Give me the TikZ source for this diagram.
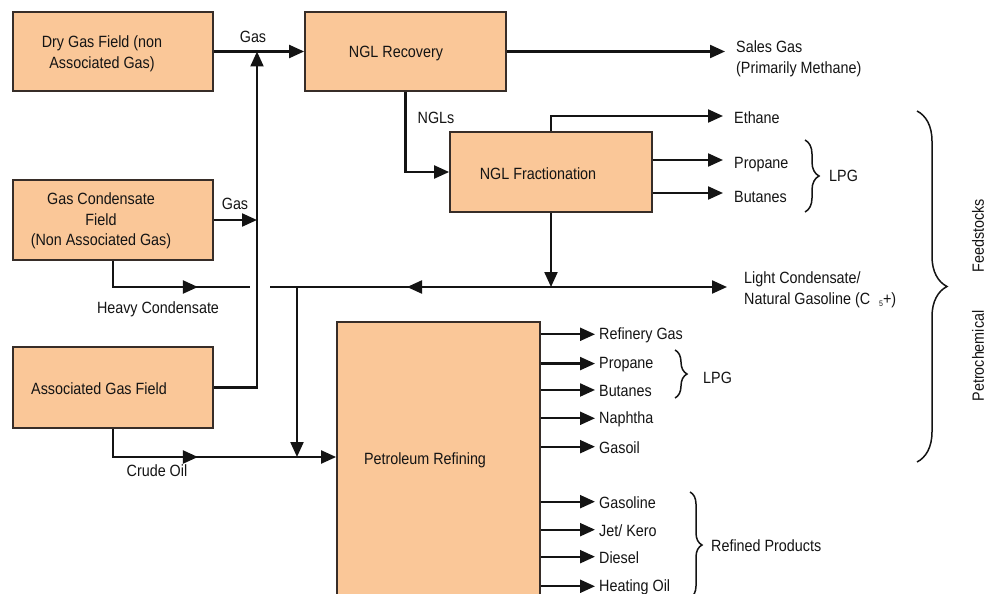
\documentclass[tikz,border=0pt]{standalone}
\usepackage{fontspec}
\setmainfont[FakeStretch=0.88]{Liberation Sans}
\usetikzlibrary{arrows.meta,decorations.pathreplacing,decorations.markings,calc}
\definecolor{peach}{RGB}{250,199,152}
\definecolor{edgec}{RGB}{55,45,40}
\definecolor{inkc}{RGB}{20,20,20}
\begin{document}
\begin{tikzpicture}[x=1pt,y=-1pt,
  font=\fontsize{16.3}{20.5}\selectfont,
  box/.style={draw=edgec, line width=1.8pt, fill=peach, inner sep=0pt},
  txt/.style={inner sep=1pt, text=inkc, align=center},
  outtxt/.style={inner sep=1pt, text=inkc, anchor=base west},
  line/.style={draw=inkc, line width=2.2pt},
  flow/.style={line, -{Triangle[length=15pt,width=13pt]}},
  midarrow/.style={postaction={decorate}, decoration={markings, mark=at position #1 with {\arrow{Triangle[length=15pt,width=13pt]}}}},
  brc/.style={draw=inkc, line width=1.5pt, decorate, decoration={brace, amplitude=#1}}
]
\useasboundingbox (0,0) rectangle (991,594);
\clip (0,0) rectangle (991,594);
\fill[white] (0,0) rectangle (991,594);

% boxes
\node[box, minimum width=200pt, minimum height=79pt] (dry) at (113,51.5) {};
\node[box, minimum width=201pt, minimum height=79pt] (rec) at (405.5,51.5) {};
\node[box, minimum width=200pt, minimum height=80pt] (gcf) at (113,220) {};
\node[box, minimum width=200pt, minimum height=81pt] (agf) at (113,387.5) {};
\node[box, minimum width=202pt, minimum height=80pt] (frac) at (551,172) {};
\node[box, minimum width=203pt, minimum height=280pt] (ref) at (438.5,462) {};

% box texts
\node[txt] (drytxt) at (102,54) {Dry Gas Field (non\\Associated Gas)};
\node[txt, anchor=base] (rectxt) at (396,58) {NGL Recovery};
\node[txt] (gcftxt) at (101,221) {Gas Condensate\\Field\\(Non Associated Gas)};
\node[txt, anchor=base] (agftxt) at (99,394) {Associated Gas Field};
\node[txt, anchor=base] (fractxt) at (538,179) {NGL Fractionation};
\node[txt, anchor=base] (reftxt) at (425,464) {Petroleum Refining};

% labels on connectors
\node[txt, anchor=base] (lgas1) at (253,43) {Gas};
\node[txt, anchor=base] (lgas2) at (235,209) {Gas};
\node[txt, anchor=base] (lheavy) at (158,313) {Heavy Condensate};
\node[txt, anchor=base] (lcrude) at (157,476) {Crude Oil};
\node[txt, anchor=base] (lngls) at (436,123) {NGLs};

% gas side outputs
\node[inner sep=1pt, text=inkc, align=left, anchor=west] (sales) at (735,59) {Sales Gas\\(Primarily Methane)};
\node[outtxt] (ethane) at (733,124) {Ethane};
\node[outtxt] (prop1) at (733,168) {Propane};
\node[outtxt] (but1) at (733,202) {Butanes};
\node[outtxt] (lpg1) at (828,181) {LPG};
\node[inner sep=1pt, text=inkc, align=left, anchor=west] (light) at (743,290) {Light Condensate/\\Natural Gasoline (C\hspace{9pt}\raisebox{-2pt}{\fontsize{8}{8}\selectfont 5}+)};

% refinery outputs
\node[outtxt] (rgas) at (598,339) {Refinery Gas};
\node[outtxt] (prop2) at (598,368) {Propane};
\node[outtxt] (but2) at (598,396) {Butanes};
\node[outtxt] (naph) at (598,423) {Naphtha};
\node[outtxt] (gasoil) at (598,453) {Gasoil};
\node[outtxt] (gasoline) at (598,508) {Gasoline};
\node[outtxt] (jet) at (598,536) {Jet/ Kero};
\node[outtxt] (diesel) at (598,563) {Diesel};
\node[outtxt] (heat) at (598,591) {Heating Oil};
\node[outtxt] (lpg2) at (702,383) {LPG};
\node[outtxt] (refprod) at (710,551) {Refined Products};

% petrochemical feedstocks
\node[txt, rotate=90] (feed) at (978,236) {Feedstocks};
\node[txt, rotate=90] (petro) at (978,356) {Petrochemical};

% coordinates
\coordinate (gasjoin) at (257,51.5);
\coordinate (gcfgas) at (257,220);
\coordinate (salesend) at (725,51.5);
\coordinate (ethend) at (723,116);
\coordinate (propend) at (723,160);
\coordinate (butend) at (723,193);
\coordinate (lcjoin) at (551,287);
\coordinate (lcL) at (270,287);
\coordinate (lcR) at (727,287);
\coordinate (hcE) at (250,287);
\coordinate (lcdrop) at (297,287);
\coordinate (rjoin) at (297,457);

% connectors
\draw[flow] (dry.east) -- (rec.west);
\draw[flow] (agf.east) -| (gasjoin);
\draw[flow] (gcf.east) -- (gcfgas);
\draw[flow] (rec.east) -- (salesend);
\draw[flow] (rec.south) |- (frac.west);
\draw[flow] (frac.north) |- (ethend);
\draw[flow] (frac.east |- propend) -- (propend);
\draw[flow] (frac.east |- butend) -- (butend);
\draw[flow] (frac.south) -- (lcjoin);
\draw[flow] (lcjoin) -- (lcR);
\draw[line, midarrow=144pt] (lcjoin) -- (lcL);
\draw[line, midarrow=111pt] (gcf.south) |- (hcE);
\draw[flow] (lcdrop) -- (rjoin);
\draw[flow, midarrow=113pt] (agf.south) |- (rjoin -| ref.west);

\foreach \n in {rgas,prop2,but2,naph,gasoil,gasoline,jet,diesel,heat}{
  \draw[flow] ($(ref.east |- \n.west)+(0,-0.5)$) -- ($(\n.west)+(-3,-0.5)$);
}

% braces
\draw[brc=14pt] (805,140) -- (805,212);
\draw[brc=12pt] (675,350) -- (675,398);
\draw[brc=12pt] (690,492) -- (690,598);
\draw[brc=30pt] (917,111) -- (917,462);
\end{tikzpicture}
\end{document}
